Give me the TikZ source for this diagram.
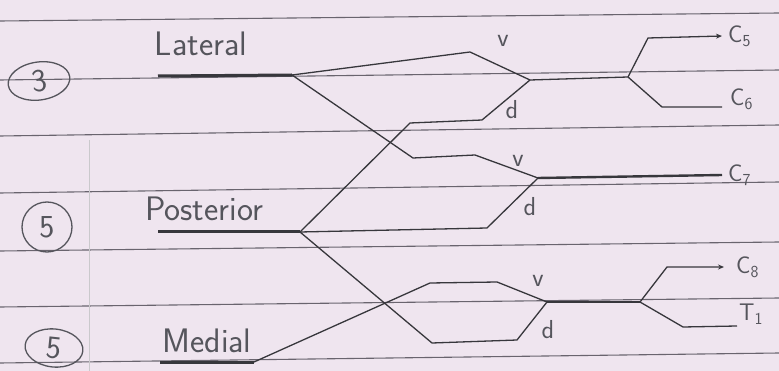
\documentclass[tikz,border=0pt]{standalone}
\usepackage{fontspec}
\usepackage{xcolor}
\usetikzlibrary{shapes.geometric, arrows.meta, positioning}
\definecolor{paper}{RGB}{239,229,239}
\definecolor{ink}{RGB}{55,55,60}
\definecolor{ruleline}{RGB}{105,100,110}
\definecolor{pencil}{RGB}{85,85,92}
\tikzset{
  ruling/.style={ruleline, line width=1.1pt},
  marginline/.style={ruleline!35, line width=0.8pt},
  nerve/.style={ink, line width=1.3pt, line join=round},
  cord/.style={ink, line width=3pt},
  arrow/.style={nerve, -{Stealth[length=6pt,width=5pt]}},
  cordname/.style={pencil, font=\sffamily\fontsize{34}{36}\selectfont, inner sep=0pt},
  rootname/.style={pencil, font=\sffamily\fontsize{24}{26}\selectfont, inner sep=0pt},
  divname/.style={pencil, font=\sffamily\fontsize{26}{28}\selectfont, inner sep=0pt},
  count/.style={ellipse, draw=pencil, line width=1.3pt, text=pencil, font=\sffamily\fontsize{32}{34}\selectfont, inner sep=0pt}
}
\begin{document}
\begin{tikzpicture}[x=1pt, y=-1pt]
\fill[paper] (0,0) rectangle (779,371);
\useasboundingbox (0,0) rectangle (779,371);
% ruled page
\foreach \yl/\yr in {21/13, 80/70, 136/125, 193/182, 251/242, 307/298, 363/353}
  \draw[ruling] (0,\yl) -- (779,\yr);
\draw[marginline] (89,140) -- (89,371);

% cords
\coordinate (lat0) at (158,76);
\coordinate (lat) at (292,75);
\coordinate (post0) at (158,232);
\coordinate (post) at (300,232);
\coordinate (med0) at (160,362);
\coordinate (med) at (254,362);
\draw[cord] (lat0) -- (lat);
\draw[cord] (post0) -- (post);
\draw[cord] (med0) -- (med);
\node[cordname] (latname) at (201,44) {Lateral};
\node[cordname] (postname) at (204,209) {Posterior};
\node[cordname] (medname) at (207,341) {Medial};

\node[count, minimum width=62pt, minimum height=38pt, rotate=8] (n3) at (39,81) {3};
\node[count, minimum width=50pt, minimum height=50pt] (n5a) at (47,227) {5};
\node[count, minimum width=58pt, minimum height=38pt, rotate=-6] (n5b) at (54,348) {5};

% trunks and roots
\coordinate (ut) at (530,80);
\coordinate (utj) at (628,77);
\coordinate (c5a) at (648,38);
\coordinate (c5) at (722,36);
\coordinate (c6a) at (662,107);
\coordinate (c6) at (722,107);
\coordinate (mt) at (538,178);
\coordinate (c7) at (722,175);
\coordinate (lt) at (547,302);
\coordinate (ltj) at (640,302);
\coordinate (c8a) at (667,267);
\coordinate (c8) at (724,267);
\coordinate (t1a) at (683,327);
\coordinate (t1) at (737,326);

\draw[nerve] (ut) -- (utj);
\draw[arrow] (utj) -- (c5a) -- (c5);
\draw[nerve] (utj) -- (c6a) -- (c6);
\draw[ink, line width=2.4pt] (mt) -- (c7);
\draw[nerve] (lt) -- (ltj);
\draw[arrow] (ltj) -- (c8a) -- (c8);
\draw[nerve] (ltj) -- (t1a) -- (t1);

\node[rootname, right=6pt of c5, anchor=west] (c5name) {C\textsubscript{5}};
\node[rootname, right=8pt of c6, anchor=west, yshift=8pt] (c6name) {C\textsubscript{6}};
\node[rootname, right=6pt of c7, anchor=west] (c7name) {C\textsubscript{7}};
\node[rootname, right=12pt of c8, anchor=west] (c8name) {C\textsubscript{8}};
\node[rootname, right=2pt of t1, anchor=west, yshift=12pt] (t1name) {T\textsubscript{1}};

% divisions
\coordinate (uv) at (470,52);
\coordinate (ud1) at (482,120);
\coordinate (ud2) at (410,123);
\coordinate (mv1) at (475,155);
\coordinate (mv2) at (413,158);
\coordinate (md) at (487,228);
\coordinate (lv1) at (497,282);
\coordinate (lv2) at (430,283);
\coordinate (ld1) at (517,340);
\coordinate (ld2) at (432,343);

\draw[nerve] (lat) -- (uv) -- (ut);
\draw[nerve] (ut) -- (ud1) -- (ud2) -- (post);
\draw[nerve] (lat) -- (mv2) -- (mv1) -- (mt);
\draw[nerve] (mt) -- (md) -- (post);
\draw[nerve] (med) -- (lv2) -- (lv1) -- (lt);
\draw[nerve] (post) -- (ld2) -- (ld1) -- (lt);

\node[divname] (uvname) at (503,41) {v};
\node[divname] (udname) at (512,110) {d};
\node[divname] (mvname) at (518,161) {v};
\node[divname] (mdname) at (530,207) {d};
\node[divname] (lvname) at (538,281) {v};
\node[divname] (ldname) at (548,330) {d};
\end{tikzpicture}
\end{document}
